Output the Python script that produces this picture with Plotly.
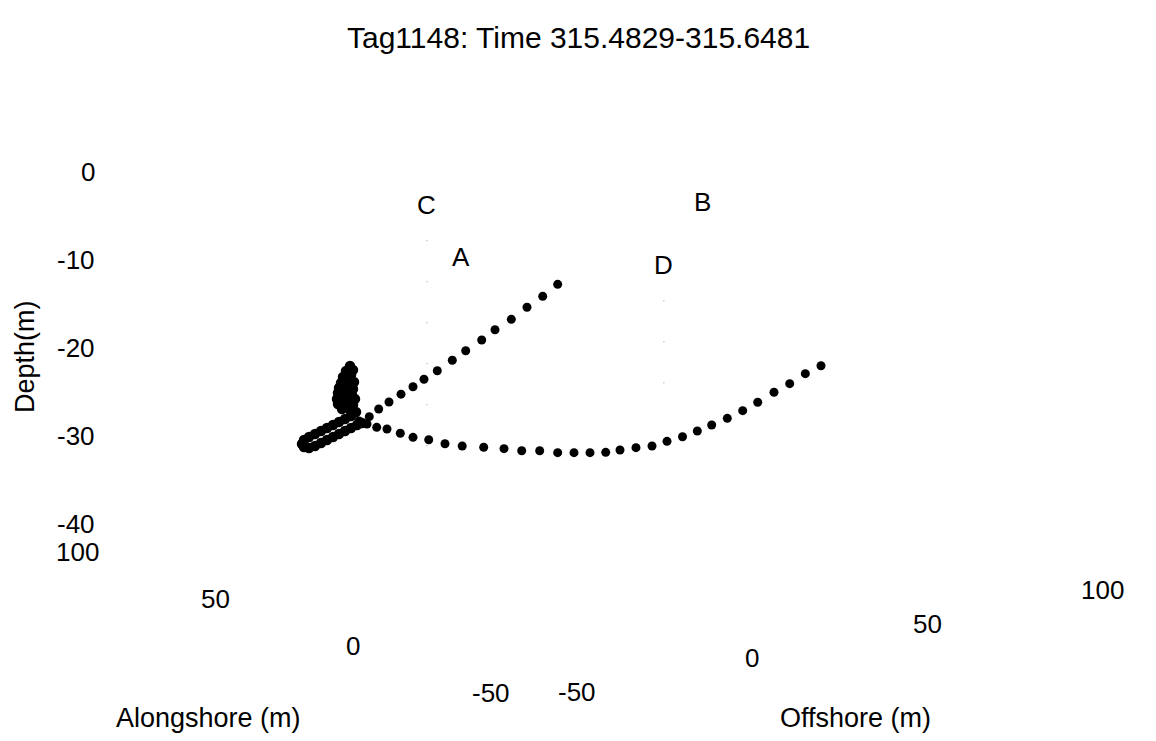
import plotly.graph_objects as go

# ---- Tag 1148 track, metres (offshore, alongshore, depth) ----
# outbound leg: shallow end down to the milling area
leg1_offshore = [20.54, 16.26, 11.77, 7.29, 2.63, -1.17, -5.74, -9.57, -13.86, -17.66,
                 -20.8, -24.23, -27.66, -30.6, -33.29, -36.23]
leg1_alongshore = [20.0, 20.0, 20.0, 20.0, 20.0, 20.0, 20.0, 20.0, 20.0, 20.0,
                   20.0, 20.0, 20.0, 20.0, 20.0, 20.0]
leg1_depth = [-8.99, -10.02, -10.92, -11.94, -12.76, -13.64, -14.50, -15.29, -16.15, -16.82,
              -17.43, -18.01, -18.64, -19.20, -19.87, -20.13]

# milling area: dense fixes while the fish holds position
mill_offshore = [-30.91, -30.06, -32.06, -31.49, -30.63, -32.91, -31.2, -33.49, -29.77, -30.91,
                 -32.06, -34.06, -31.77, -30.06, -33.77, -34.34, -32.34, -30.34, -33.49, -29.49,
                 -34.63, -32.63, -30.63, -31.2, -34.34, -32.06, -30.06, -33.2, -30.91, -29.2,
                 -30.63, -32.34, -34.06, -35.77, -37.49, -39.2, -40.91, -42.63, -44.06, -44.63,
                 -44.06, -42.63, -40.91, -39.2, -37.49, -35.77, -34.06, -32.34, -30.63, -28.91,
                 -27.49]
mill_alongshore = [30.0, 30.0, 30.0, 30.0, 30.0, 30.0, 30.0, 30.0, 30.0, 30.0,
                   30.0, 30.0, 30.0, 30.0, 30.0, 30.0, 30.0, 30.0, 30.0, 30.0,
                   30.0, 30.0, 30.0, 30.0, 30.0, 30.0, 30.0, 30.0, 30.0, 30.0,
                   30.0, 30.0, 30.0, 30.0, 30.0, 30.0, 30.0, 30.0, 30.0, 30.0,
                   30.0, 30.0, 30.0, 30.0, 30.0, 30.0, 30.0, 30.0, 30.0, 30.0,
                   30.0]
mill_depth = [-15.36, -15.88, -15.84, -16.11, -16.41, -16.46, -16.93, -17.09, -17.27, -17.52,
              -17.55, -17.62, -18.02, -18.04, -17.98, -18.16, -18.55, -18.70, -18.57, -19.22,
              -18.82, -19.09, -19.36, -19.54, -19.41, -19.82, -19.86, -20.07, -20.36, -20.72,
              -21.06, -21.27, -21.48, -21.69, -21.90, -22.11, -22.32, -22.52, -22.75, -23.16,
              -23.55, -23.77, -23.68, -23.47, -23.26, -23.05, -22.85, -22.64, -22.43, -22.22,
              -22.10]

# return leg: along the bottom and up towards offshore
leg2_offshore = [-33.94, -31.17, -28.23, -24.43, -20.8, -16.31, -11.66, -6.74, -0.6, 5.2,
                 10.26, 15.4, 20.54, 25.2, 29.77, 34.26, 38.34, 42.91, 47.49, 51.77,
                 56.2, 60.43, 64.54, 69.0, 73.4, 77.69, 82.34, 86.83, 91.29, 95.77]
leg2_alongshore = [20.0, 20.0, 20.0, 20.0, 20.0, 20.0, 20.0, 20.0, 20.0, 20.0,
                   20.0, 20.0, 20.0, 20.0, 20.0, 20.0, 20.0, 20.0, 20.0, 20.0,
                   20.0, 20.0, 20.0, 20.0, 20.0, 20.0, 20.0, 20.0, 20.0, 20.0]
leg2_depth = [-20.65, -21.24, -21.66, -22.44, -23.18, -23.80, -24.61, -25.25, -25.87, -26.48,
              -27.10, -27.50, -28.12, -28.48, -28.83, -29.14, -29.19, -29.28, -29.44, -29.24,
              -29.06, -28.74, -28.37, -27.96, -27.43, -26.81, -26.03, -25.40, -24.61, -24.05]

# ---- hydrophone stations (surface) ----
station_names = ["A", "B", "C", "D"]
station_offshore = [-24.7, 48.7, -3.1, 7.9]
station_alongshore = [-2.3, 3.1, 37.4, -34.5]
station_depth = [0.0, 0.0, 0.0, 0.0]

# mooring lines hanging below two of the stations
mooring_station = ["C", "D"]
mooring_top = [-4.0, -4.0]
mooring_bottom = [-29.0, -16.5]

# ---- axis ticks ----
depth_ticks = [0, -10, -20, -30, -40]
along_ticks = [100, 50, 0, -50]
off_ticks = [-50, 0, 50, 100]
OFF_MIN, ALONG_MIN, ALONG_MAX, DEPTH_MIN = -50, -50, 100, -40

TITLE = "Tag1148: Time 315.4829-315.6481"
X_TITLE = "Offshore (m)"
Y_TITLE = "Alongshore (m)"
Z_TITLE = "Depth(m)"

W, H = 1156, 741
FONT = "Liberation Sans, Arial, sans-serif"

# oblique 3-D view: screen position of the origin and screen step for 1 m on each axis
ORIGIN = (541.0, 238.0)
E_OFF = (3.5, -0.68)
E_ALONG = (-2.76, -0.94)
E_DEPTH = (0.0, -8.8)


def project(x, y, z):
    u = ORIGIN[0] + E_OFF[0] * x + E_ALONG[0] * y + E_DEPTH[0] * z
    v = ORIGIN[1] + E_OFF[1] * x + E_ALONG[1] * y + E_DEPTH[1] * z
    return u, v


def project_all(xs, ys, zs):
    pts = [project(x, y, z) for x, y, z in zip(xs, ys, zs)]
    return [p[0] for p in pts], [p[1] for p in pts]


fig = go.Figure()

# moorings (faint, sparse dots)
for name, ztop, zbot in zip(mooring_station, mooring_top, mooring_bottom):
    i = station_names.index(name)
    u, v = project_all([station_offshore[i]] * 2, [station_alongshore[i]] * 2, [ztop, zbot])
    fig.add_trace(go.Scatter(x=u, y=v, mode="lines",
                             line=dict(color="#9a9a9a", width=1, dash="1px,40px"),
                             hoverinfo="skip", showlegend=False))

# fish track (the milling fixes overlap into a solid smear)
for xs, ys, zs, size in [(leg1_offshore, leg1_alongshore, leg1_depth, 9),
                         (mill_offshore, mill_alongshore, mill_depth, 10.5),
                         (leg2_offshore, leg2_alongshore, leg2_depth, 9)]:
    u, v = project_all(xs, ys, zs)
    fig.add_trace(go.Scatter(x=u, y=v, mode="markers",
                             marker=dict(color="black", size=size, line=dict(width=0)),
                             hoverinfo="skip", showlegend=False))

annotations = []
tick_font = dict(family=FONT, size=26, color="black")
label_font = dict(family=FONT, size=27, color="black")

# station letters
su, sv = project_all(station_offshore, station_alongshore, station_depth)
for name, u, v in zip(station_names, su, sv):
    annotations.append(dict(x=u, y=v, xref="x", yref="y", text=name, showarrow=False,
                            xanchor="center", yanchor="middle", font=tick_font))

# depth tick labels on the left vertical edge
for t in depth_ticks:
    u, v = project(OFF_MIN, ALONG_MAX, t)
    annotations.append(dict(x=u + 7, y=v - 6, xref="x", yref="y", text=str(t), showarrow=False,
                            xanchor="right", yanchor="middle", font=tick_font))

# alongshore tick labels on the front-left edge
for t in along_ticks:
    u, v = project(OFF_MIN, t, DEPTH_MIN)
    annotations.append(dict(x=u - 13, y=v + 22, xref="x", yref="y", text=str(t), showarrow=False,
                            xanchor="center", yanchor="middle", font=tick_font))

# offshore tick labels on the front-right edge
for t in off_ticks:
    u, v = project(t, ALONG_MIN, DEPTH_MIN)
    annotations.append(dict(x=u + 73, y=v + 21, xref="x", yref="y", text=str(t), showarrow=False,
                            xanchor="center", yanchor="middle", font=tick_font))

# axis titles and figure title
annotations += [
    dict(x=208, y=718, xref="x", yref="y", text=Y_TITLE, showarrow=False,
         xanchor="center", yanchor="middle", font=label_font),
    dict(x=855, y=718, xref="x", yref="y", text=X_TITLE, showarrow=False,
         xanchor="center", yanchor="middle", font=label_font),
    dict(x=25, y=357, xref="x", yref="y", text=Z_TITLE, showarrow=False, textangle=-90,
         xanchor="center", yanchor="middle", font=label_font),
    dict(x=578, y=37, xref="x", yref="y", text=TITLE, showarrow=False,
         xanchor="center", yanchor="middle", font=dict(family=FONT, size=30, color="black")),
]

fig.update_layout(
    width=W, height=H,
    margin=dict(l=0, r=0, t=0, b=0),
    paper_bgcolor="white", plot_bgcolor="white",
    xaxis=dict(range=[0, W], visible=False, fixedrange=True),
    yaxis=dict(range=[H, 0], visible=False, fixedrange=True),
    annotations=annotations,
    showlegend=False,
)

fig.write_html("out.html")
